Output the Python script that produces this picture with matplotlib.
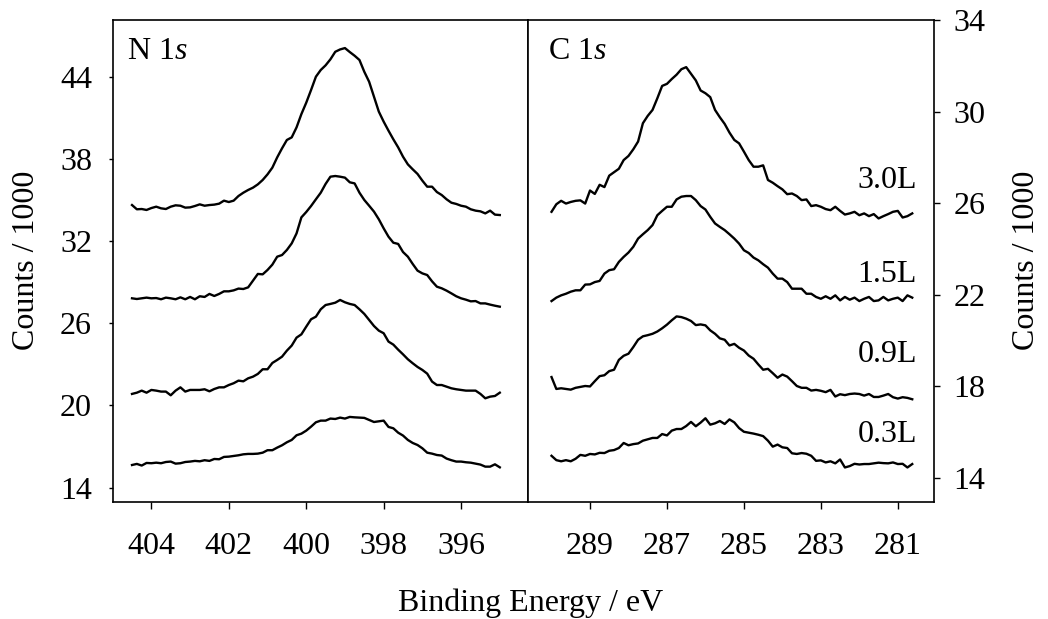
import numpy as np
import matplotlib
matplotlib.use("Agg")
import matplotlib.pyplot as plt

plt.rcParams["font.family"] = ["Liberation Serif", "DejaVu Serif"]
plt.rcParams["mathtext.fontset"] = "custom"
plt.rcParams["mathtext.rm"] = "Liberation Serif"
plt.rcParams["mathtext.it"] = "Liberation Serif:italic"

# binding energy grids (eV), 0.125 eV steps
energy_n = np.linspace(404.5, 395.0, 77)
energy_c = np.linspace(290.0, 280.625, 76)

# N 1s spectra, counts / 1000
n_30 = [34.63, 34.32, 34.34, 34.27, 34.41, 34.51, 34.39, 34.34, 34.51, 34.61,
        34.58, 34.44, 34.46, 34.56, 34.68, 34.58, 34.63, 34.66, 34.73, 34.95,
        34.85, 34.95, 35.29, 35.53, 35.73, 35.9, 36.14, 36.46, 36.87, 37.36,
        38.11, 38.77, 39.38, 39.57, 40.3, 41.27, 42.1, 43.03, 44.0, 44.49,
        44.83, 45.27, 45.82, 45.99, 46.09, 45.8, 45.53, 45.22, 44.36, 43.63,
        42.54, 41.45, 40.72, 40.06, 39.43, 38.84, 38.16, 37.6, 37.24, 36.9,
        36.41, 35.97, 35.97, 35.58, 35.36, 35.05, 34.8, 34.71, 34.58, 34.51,
        34.32, 34.22, 34.17, 34.02, 34.22, 33.93, 33.9]
n_15 = [27.82, 27.77, 27.82, 27.87, 27.82, 27.84, 27.75, 27.87, 27.82, 27.75,
        27.89, 27.75, 27.92, 27.75, 27.97, 27.92, 28.14, 27.99, 28.14, 28.33,
        28.33, 28.4, 28.53, 28.5, 28.62, 29.11, 29.6, 29.57, 29.89, 30.28,
        30.86, 30.98, 31.35, 31.83, 32.56, 33.73, 34.12, 34.56, 35.05, 35.53,
        36.17, 36.7, 36.75, 36.7, 36.63, 36.29, 36.21, 35.53, 35.0, 34.58,
        34.15, 33.59, 32.93, 32.32, 31.88, 31.79, 31.2, 30.86, 30.33, 29.84,
        29.64, 29.52, 29.06, 28.67, 28.55, 28.38, 28.18, 27.97, 27.82, 27.72,
        27.6, 27.62, 27.45, 27.45, 27.36, 27.28, 27.21]
n_09 = [20.84, 20.93, 21.08, 20.93, 21.13, 21.08, 21.01, 21.01, 20.74, 21.08,
        21.32, 21.01, 21.13, 21.13, 21.13, 21.18, 21.03, 21.2, 21.32, 21.32,
        21.49, 21.62, 21.81, 21.76, 21.98, 22.1, 22.3, 22.64, 22.64, 23.1,
        23.32, 23.56, 24.0, 24.37, 24.95, 25.19, 25.75, 26.29, 26.48, 27.02,
        27.33, 27.41, 27.5, 27.7, 27.53, 27.41, 27.33, 27.02, 26.68, 26.24,
        25.8, 25.46, 25.27, 24.66, 24.44, 24.07, 23.73, 23.37, 23.08, 22.81,
        22.59, 22.32, 21.74, 21.49, 21.49, 21.37, 21.25, 21.18, 21.13, 21.08,
        21.08, 21.08, 20.84, 20.52, 20.64, 20.69, 20.93]
n_03 = [15.65, 15.73, 15.61, 15.8, 15.78, 15.82, 15.78, 15.87, 15.9, 15.75,
        15.78, 15.87, 15.9, 15.95, 15.92, 16.0, 15.95, 16.09, 16.07, 16.24,
        16.26, 16.31, 16.36, 16.43, 16.46, 16.46, 16.48, 16.55, 16.73, 16.73,
        16.92, 17.09, 17.31, 17.48, 17.82, 17.94, 18.16, 18.45, 18.77, 18.89,
        18.89, 19.04, 19.01, 19.11, 19.04, 19.16, 19.13, 19.11, 19.09, 18.94,
        18.79, 18.84, 18.89, 18.43, 18.33, 18.01, 17.8, 17.48, 17.26, 17.11,
        16.87, 16.55, 16.48, 16.38, 16.34, 16.12, 16.0, 15.9, 15.9, 15.85,
        15.82, 15.75, 15.68, 15.53, 15.53, 15.7, 15.48]

# C 1s spectra, counts / 1000
c_30 = [25.62, 25.95, 26.1, 25.98, 26.05, 26.1, 26.12, 25.98, 26.55, 26.4,
        26.8, 26.7, 27.2, 27.35, 27.5, 27.88, 28.06, 28.35, 28.69, 29.49,
        29.81, 30.07, 30.58, 31.12, 31.21, 31.42, 31.61, 31.85, 31.94, 31.65,
        31.36, 30.92, 30.8, 30.63, 30.07, 29.75, 29.46, 29.08, 28.76, 28.61,
        28.25, 27.88, 27.59, 27.59, 27.65, 27.01, 26.89, 26.74, 26.6, 26.39,
        26.42, 26.31, 26.13, 26.16, 25.87, 25.91, 25.84, 25.74, 25.69, 25.84,
        25.66, 25.5, 25.55, 25.62, 25.47, 25.55, 25.43, 25.52, 25.33, 25.43,
        25.52, 25.62, 25.66, 25.37, 25.43, 25.55]
c_15 = [21.72, 21.87, 21.97, 22.04, 22.13, 22.19, 22.19, 22.44, 22.45, 22.55,
        22.6, 22.92, 23.07, 23.11, 23.43, 23.65, 23.84, 24.09, 24.45, 24.64,
        24.82, 25.04, 25.47, 25.66, 25.84, 25.84, 26.16, 26.28, 26.31, 26.31,
        26.13, 25.87, 25.72, 25.4, 25.11, 24.96, 24.82, 24.64, 24.45, 24.23,
        23.94, 23.82, 23.62, 23.5, 23.33, 23.18, 22.92, 22.7, 22.7, 22.55,
        22.26, 22.26, 22.26, 22.04, 22.04, 21.9, 21.82, 21.93, 21.82, 21.97,
        21.75, 21.9, 21.78, 21.87, 21.72, 21.82, 21.9, 21.72, 21.75, 21.9,
        21.75, 21.82, 21.87, 21.72, 21.97, 21.87]
c_09 = [18.4, 17.88, 17.91, 17.88, 17.85, 17.93, 17.97, 18.01, 17.99, 18.22,
        18.44, 18.48, 18.66, 18.72, 19.15, 19.33, 19.42, 19.71, 20.03, 20.18,
        20.23, 20.29, 20.39, 20.53, 20.69, 20.88, 21.05, 21.02, 20.95, 20.85,
        20.67, 20.7, 20.66, 20.44, 20.29, 20.09, 20.03, 19.78, 19.85, 19.68,
        19.56, 19.34, 19.2, 18.95, 18.72, 18.76, 18.57, 18.37, 18.51, 18.42,
        18.22, 18.01, 17.93, 17.93, 17.81, 17.84, 17.8, 17.74, 17.84, 17.55,
        17.65, 17.61, 17.66, 17.68, 17.66, 17.59, 17.66, 17.53, 17.53, 17.59,
        17.66, 17.52, 17.46, 17.52, 17.49, 17.43]
c_03 = [14.96, 14.77, 14.72, 14.77, 14.72, 14.83, 15.0, 14.96, 15.04, 15.02,
        15.09, 15.08, 15.18, 15.21, 15.3, 15.52, 15.42, 15.47, 15.5, 15.62,
        15.68, 15.74, 15.74, 15.91, 15.85, 16.06, 16.13, 16.13, 16.26, 16.44,
        16.25, 16.41, 16.6, 16.32, 16.38, 16.48, 16.35, 16.55, 16.42, 16.17,
        16.01, 15.97, 15.93, 15.88, 15.82, 15.62, 15.36, 15.45, 15.33, 15.3,
        15.07, 15.04, 15.08, 15.05, 14.96, 14.74, 14.76, 14.67, 14.72, 14.63,
        14.8, 14.45, 14.51, 14.61, 14.58, 14.6, 14.6, 14.63, 14.66, 14.64,
        14.63, 14.67, 14.6, 14.61, 14.45, 14.6]

doses = ["3.0L", "1.5L", "0.9L", "0.3L"]

n_ticks = [404, 402, 400, 398, 396]
c_ticks = [289, 287, 285, 283, 281]
n_yticks = [14, 20, 26, 32, 38, 44]
c_yticks = [14, 18, 22, 26, 30, 34]

fs = 23
lw = 1.7

fig = plt.figure(figsize=(10.48, 6.19), dpi=100)
ax_n = fig.add_axes([0.1075, 0.1897, 0.396, 0.778])
ax_c = fig.add_axes([0.5035, 0.1897, 0.3877, 0.778])

for ys in (n_30, n_15, n_09, n_03):
    ax_n.plot(energy_n, ys, color="black", lw=lw)
for ys in (c_30, c_15, c_09, c_03):
    ax_c.plot(energy_c, ys, color="black", lw=lw)

ax_n.set_xlim(405.0, 394.28)
ax_n.set_ylim(12.98, 48.14)
ax_c.set_xlim(290.62, 280.06)
ax_c.set_ylim(12.96, 34.0)

ax_n.set_xticks(n_ticks)
ax_n.set_yticks(n_yticks)
ax_c.set_xticks(c_ticks)
ax_c.set_yticks(c_yticks)

ax_n.tick_params(axis="both", direction="out", width=1, labelsize=fs)
ax_n.tick_params(axis="x", length=4.8, pad=17)
ax_n.tick_params(axis="y", length=3.1, pad=11.8)
ax_c.tick_params(axis="both", direction="out", width=1, labelsize=fs)
ax_c.tick_params(axis="x", length=4.8, pad=17)
ax_c.yaxis.tick_right()
ax_c.yaxis.set_label_position("right")
ax_c.tick_params(axis="y", length=4, pad=9.9)

for ax in (ax_n, ax_c):
    for sp in ax.spines.values():
        sp.set_linewidth(1.2)

ax_n.set_ylabel("Counts / 1000", fontsize=fs, labelpad=14)
ax_c.set_ylabel("Counts / 1000", fontsize=fs, labelpad=19.5)

ax_n.text(0.0337, 0.918, "N 1$s$", transform=ax_n.transAxes, fontsize=fs,
          va="baseline", ha="left")
ax_c.text(0.051, 0.918, "C 1$s$", transform=ax_c.transAxes, fontsize=fs,
          va="baseline", ha="left")

# dose labels, baselines in right-axis units
for lab, y in zip(doses, [26.65, 22.56, 19.07, 15.57]):
    ax_c.text(280.5, y, lab, fontsize=fs, ha="right", va="baseline")

fig.text(531 / 1048, 1 - 611 / 619, "Binding Energy / eV", fontsize=fs,
         ha="center", va="baseline")

fig.savefig("out.png", dpi=100)
